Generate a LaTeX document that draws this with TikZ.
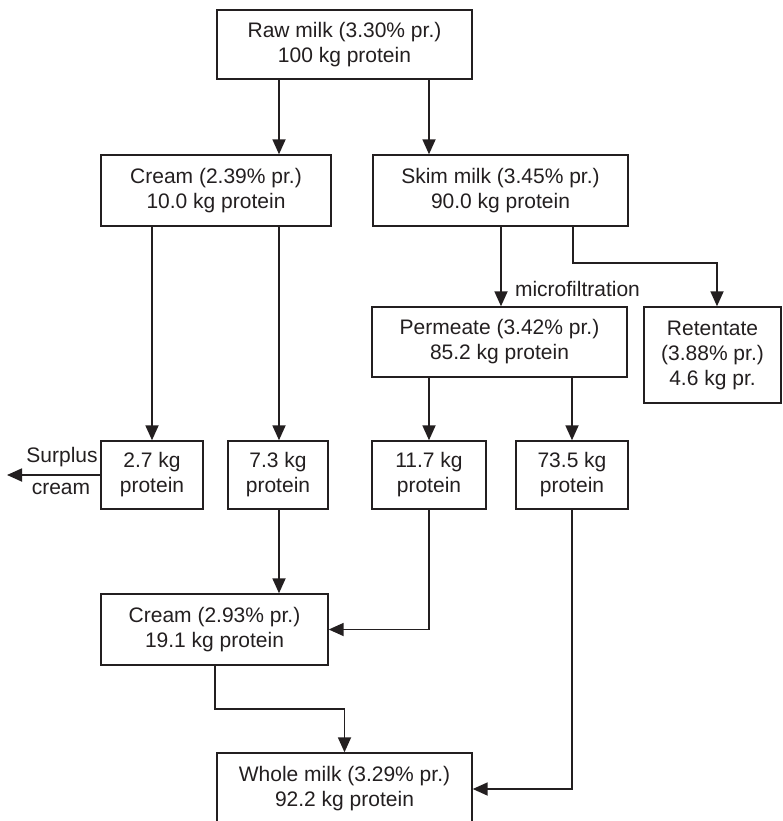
\documentclass[tikz,border=0pt]{standalone}
\usepackage{fontspec}
\setmainfont{Liberation Sans}
\usetikzlibrary{arrows.meta}
\definecolor{ink}{HTML}{231F20}
\begin{document}
\begin{tikzpicture}[x=1pt,y=-1pt,
  box/.style={draw=ink,line width=1.4pt,fill=white,align=center,inner sep=0pt,
    font=\fontsize{21}{25}\selectfont,text=ink},
  arr/.style={draw=ink,line width=1.8pt,-{Triangle[length=15pt,width=13pt]}},
  lbl/.style={font=\fontsize{21}{25}\selectfont,text=ink,inner sep=0pt}]
\useasboundingbox (0,0) rectangle (782,821);
\node[box,minimum width=255pt,minimum height=69pt] (raw) at (344.5,44.5) {Raw milk (3.30\% pr.)\\100 kg protein};
\node[box,minimum width=230pt,minimum height=71pt] (cream1) at (216,190.5) {Cream (2.39\% pr.)\\10.0 kg protein};
\node[box,minimum width=255pt,minimum height=71pt] (skim) at (500.5,190.5) {Skim milk (3.45\% pr.)\\90.0 kg protein};
\node[box,minimum width=255pt,minimum height=70pt] (perm) at (499.5,342) {Permeate (3.42\% pr.)\\85.2 kg protein};
\node[box,minimum width=137pt,minimum height=96pt] (ret) at (712.5,355) {Retentate\\(3.88\% pr.)\\4.6 kg pr.};
\node[box,minimum width=102pt,minimum height=68pt] (b27) at (152,475) {2.7 kg\\protein};
\node[box,minimum width=100pt,minimum height=68pt] (b73) at (278,475) {7.3 kg\\protein};
\node[box,minimum width=114pt,minimum height=68pt] (b117) at (429,475) {11.7 kg\\protein};
\node[box,minimum width=112pt,minimum height=68pt] (b735) at (572,475) {73.5 kg\\protein};
\node[box,minimum width=227pt,minimum height=71pt] (cream2) at (214.5,629.5) {Cream (2.93\% pr.)\\19.1 kg protein};
\node[box,minimum width=255pt,minimum height=72pt] (whole) at (344.5,789) {Whole milk (3.29\% pr.)\\92.2 kg protein};
\node[lbl] (mf) at (577.5,289) {microfiltration};
\node[lbl] (sur) at (62,457) {Surplus};
\node[lbl] (crm) at (61,489) {cream};
\coordinate (surend) at (7,475);
\coordinate (skimturn) at (573,263);
\coordinate (c2turn) at (215,709);

\draw[arr] (raw.south -| 279,0) -- (cream1.north -| 279,0);
\draw[arr] (raw.south -| 429,0) -- (skim.north -| 429,0);
\draw[arr] (cream1.south -| b27) -- (b27.north);
\draw[arr] (cream1.south -| 279,0) -- (b73.north -| 279,0);
\draw[arr] (skim.south -| 501,0) -- (perm.north -| 501,0);
\draw[arr] (skim.south -| skimturn) -- (skimturn) -| (ret.north -| 717,0);
\draw[arr] (perm.south -| b117) -- (b117.north);
\draw[arr] (perm.south -| b735) -- (b735.north);
\draw[arr] (b27.west) -- (surend);
\draw[arr] (b73.south -| 279,0) -- (cream2.north -| 279,0);
\draw[arr] (b117.south) |- (cream2.east);
\draw[arr] (cream2.south -| c2turn) -- (c2turn) -| (whole.north);
\draw[arr] (b735.south) |- (whole.east);
\end{tikzpicture}
\end{document}
